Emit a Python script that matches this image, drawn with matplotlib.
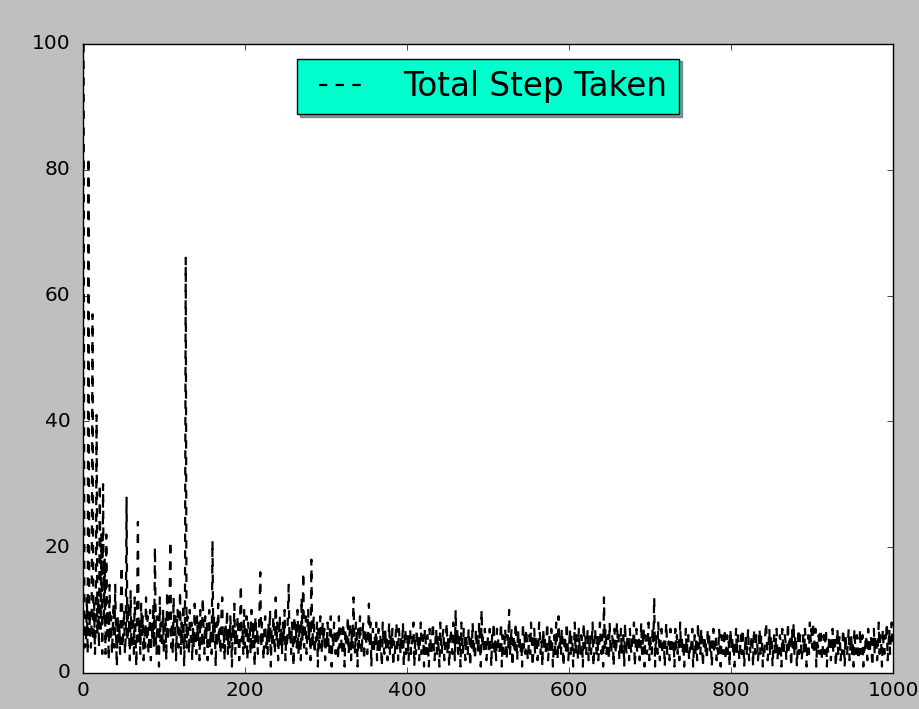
import numpy as np
import matplotlib
matplotlib.use("Agg")
import matplotlib.pyplot as plt

# total steps taken per episode
steps = [
    100, 4, 8, 5, 12, 3, 82, 6, 10, 4, 9, 57, 5, 11, 3, 8, 41, 6, 12, 4, 30, 7, 22, 3, 30,
    8, 18, 3, 22, 6, 10, 2, 14, 5, 9, 3, 7, 11, 4, 14, 6, 1, 9, 5, 8, 3, 12, 17, 4, 7,
    10, 3, 6, 28, 5, 11, 8, 2, 13, 4, 7, 9, 3, 12, 6, 1, 10, 24, 5, 8, 3, 11, 6, 9, 2,
    7, 4, 12, 5, 9, 3, 6, 10, 2, 8, 5, 11, 4, 20, 6, 3, 9, 7, 1, 12, 5, 8, 4, 10, 3,
    6, 9, 2, 13, 5, 7, 11, 21, 4, 8, 3, 12, 6, 9, 2, 7, 10, 4, 6, 13, 3, 8, 5, 11, 1,
    7, 66, 4, 9, 6, 3, 10, 5, 8, 2, 7, 4, 11, 6, 3, 9, 5, 8, 2, 10, 6, 4, 12, 7, 3,
    9, 5, 8, 2, 6, 10, 4, 7, 3, 21, 5, 9, 6, 1, 8, 4, 11, 5, 7, 3, 9, 12, 4, 6, 2,
    8, 5, 10, 3, 7, 4, 9, 6, 1, 8, 5, 11, 3, 7, 4, 9, 6, 2, 8, 14, 5, 7, 3, 10, 4,
    6, 9, 2, 8, 5, 7, 3, 10, 4, 6, 8, 1, 9, 5, 7, 3, 6, 10, 16, 4, 8, 5, 2, 7, 9,
    4, 6, 3, 8, 5, 10, 1, 7, 4, 9, 6, 3, 12, 5, 8, 2, 6, 9, 4, 7, 3, 8, 5, 10, 2,
    6, 4, 9, 14, 5, 7, 3, 8, 6, 1, 9, 5, 7, 4, 10, 3, 6, 8, 2, 12, 5, 16, 4, 7, 9,
    3, 6, 10, 5, 8, 2, 18, 4, 7, 9, 3, 6, 5, 8, 1, 7, 4, 9, 6, 3, 8, 5, 7, 2, 6,
    4, 8, 5, 3, 7, 9, 1, 6, 4, 8, 5, 3, 7, 6, 2, 9, 4, 7, 5, 3, 8, 6, 1, 7, 4,
    5, 9, 3, 6, 8, 2, 7, 4, 12, 5, 3, 8, 6, 1, 7, 4, 9, 5, 3, 6, 8, 2, 5, 7, 4,
    3, 6, 11, 4, 8, 1, 5, 7, 3, 6, 4, 8, 2, 5, 7, 3, 6, 4, 1, 8, 5, 3, 7, 4, 6,
    2, 5, 8, 3, 6, 4, 7, 1, 5, 3, 6, 8, 4, 2, 7, 5, 3, 6, 4, 8, 1, 5, 7, 3, 4,
    6, 2, 5, 7, 3, 4, 6, 8, 1, 5, 3, 7, 4, 6, 2, 5, 8, 3, 4, 6, 1, 7, 5, 3, 6,
    4, 1, 7, 5, 3, 6, 8, 4, 2, 5, 7, 3, 6, 4, 1, 8, 5, 3, 6, 7, 2, 4, 5, 8, 3,
    6, 1, 4, 7, 5, 3, 8, 6, 2, 10, 4, 7, 3, 5, 6, 1, 8, 4, 3, 7, 5, 2, 6, 4, 3,
    7, 5, 1, 6, 4, 8, 3, 5, 2, 7, 4, 6, 3, 8, 5, 1, 10, 4, 6, 3, 7, 5, 2, 4, 6,
    3, 7, 5, 1, 6, 4, 8, 3, 5, 2, 7, 6, 4, 3, 5, 8, 1, 6, 4, 3, 7, 5, 2, 6, 4,
    10, 3, 5, 7, 1, 4, 6, 3, 8, 5, 2, 7, 4, 6, 3, 5, 1, 8, 4, 6, 3, 7, 5, 2, 4,
    6, 3, 8, 5, 1, 4, 7, 3, 6, 5, 2, 4, 8, 6, 3, 5, 1, 7, 4, 6, 3, 5, 8, 2, 4,
    6, 3, 7, 5, 1, 4, 6, 3, 8, 5, 2, 9, 4, 6, 3, 7, 5, 1, 4, 6, 3, 8, 5, 2, 4,
    7, 3, 6, 5, 1, 4, 8, 3, 6, 5, 2, 7, 4, 3, 6, 5, 1, 8, 4, 6, 3, 5, 7, 2, 4,
    6, 3, 5, 8, 1, 4, 7, 5, 3, 6, 2, 4, 8, 5, 3, 6, 1, 12, 4, 7, 3, 5, 6, 2, 8,
    4, 3, 6, 5, 1, 7, 4, 3, 8, 5, 6, 2, 4, 7, 3, 5, 6, 1, 8, 4, 3, 6, 5, 2, 7,
    4, 3, 6, 5, 8, 1, 4, 7, 3, 5, 6, 2, 4, 8, 3, 5, 7, 1, 6, 4, 3, 5, 8, 2, 6,
    4, 3, 7, 5, 12, 1, 6, 4, 3, 8, 5, 2, 6, 7, 3, 4, 5, 1, 6, 8, 3, 4, 5, 2, 7,
    6, 3, 4, 5, 1, 7, 4, 6, 3, 5, 2, 8, 4, 6, 3, 5, 1, 4, 7, 3, 5, 6, 2, 4, 3,
    5, 7, 1, 4, 6, 3, 5, 2, 8, 4, 6, 3, 7, 5, 1, 4, 6, 3, 5, 2, 7, 4, 6, 3, 5,
    1, 4, 7, 3, 5, 6, 2, 4, 3, 7, 5, 1, 6, 4, 3, 5, 7, 2, 4, 6, 3, 5, 1, 7, 4,
    6, 3, 5, 1, 4, 7, 3, 6, 5, 2, 4, 6, 3, 7, 5, 1, 4, 6, 3, 5, 7, 2, 4, 3, 6,
    5, 1, 7, 4, 3, 6, 5, 2, 4, 7, 3, 6, 5, 1, 4, 3, 6, 8, 5, 2, 4, 7, 3, 6, 5,
    1, 4, 6, 3, 5, 7, 2, 4, 3, 6, 5, 1, 7, 4, 3, 6, 5, 2, 4, 8, 3, 6, 5, 1, 7,
    4, 8, 3, 6, 5, 1, 4, 7, 3, 6, 5, 2, 4, 6, 3, 7, 5, 1, 4, 6, 3, 8, 5, 7, 4,
    8, 3, 6, 7, 1, 5, 4, 6, 3, 7, 5, 2, 4, 6, 3, 5, 7, 1, 4, 3, 6, 5, 2, 4, 7,
    3, 6, 5, 1, 4, 7, 3, 5, 6, 2, 4, 3, 7, 5, 1, 6, 4, 3, 5, 7, 2, 4, 6, 3, 5,
    1, 7, 4, 3, 6, 5, 2, 4, 7, 3, 5, 6, 1, 4, 3, 6, 5, 2, 7, 4, 3, 6, 5, 1, 4,
    7, 3, 6, 5, 2, 4, 8, 3, 6, 5, 1, 7, 4, 3, 6, 5, 8, 2, 4, 7, 3, 6, 8, 5, 4,
]
episodes = np.arange(1, len(steps) + 1)
legend_label = "Total Step Taken"

plt.style.use("classic")
fig = plt.figure(figsize=(9.2, 7.09), dpi=100)
ax = fig.add_axes([0.090, 0.051, 0.881, 0.887])

ax.plot(episodes, steps, "k--", lw=1.6, label=legend_label)

ax.set_xlim(0, 1000)
ax.set_ylim(0, 100)
ax.set_xticks([0, 200, 400, 600, 800, 1000])
ax.set_yticks([0, 20, 40, 60, 80, 100])
ax.tick_params(labelsize=14.5)
ax.tick_params(axis="y", pad=9)
ax.tick_params(axis="x", pad=6)

leg = ax.legend(loc="upper center", fontsize=23.5, shadow=True, fancybox=False,
                handlelength=1.9, handletextpad=1.0, borderpad=0.35,
                borderaxespad=0.45)
leg.get_frame().set_facecolor("#00ffcc")
leg.get_frame().set_edgecolor("black")

fig.savefig("out.png", dpi=100, facecolor=fig.get_facecolor())
